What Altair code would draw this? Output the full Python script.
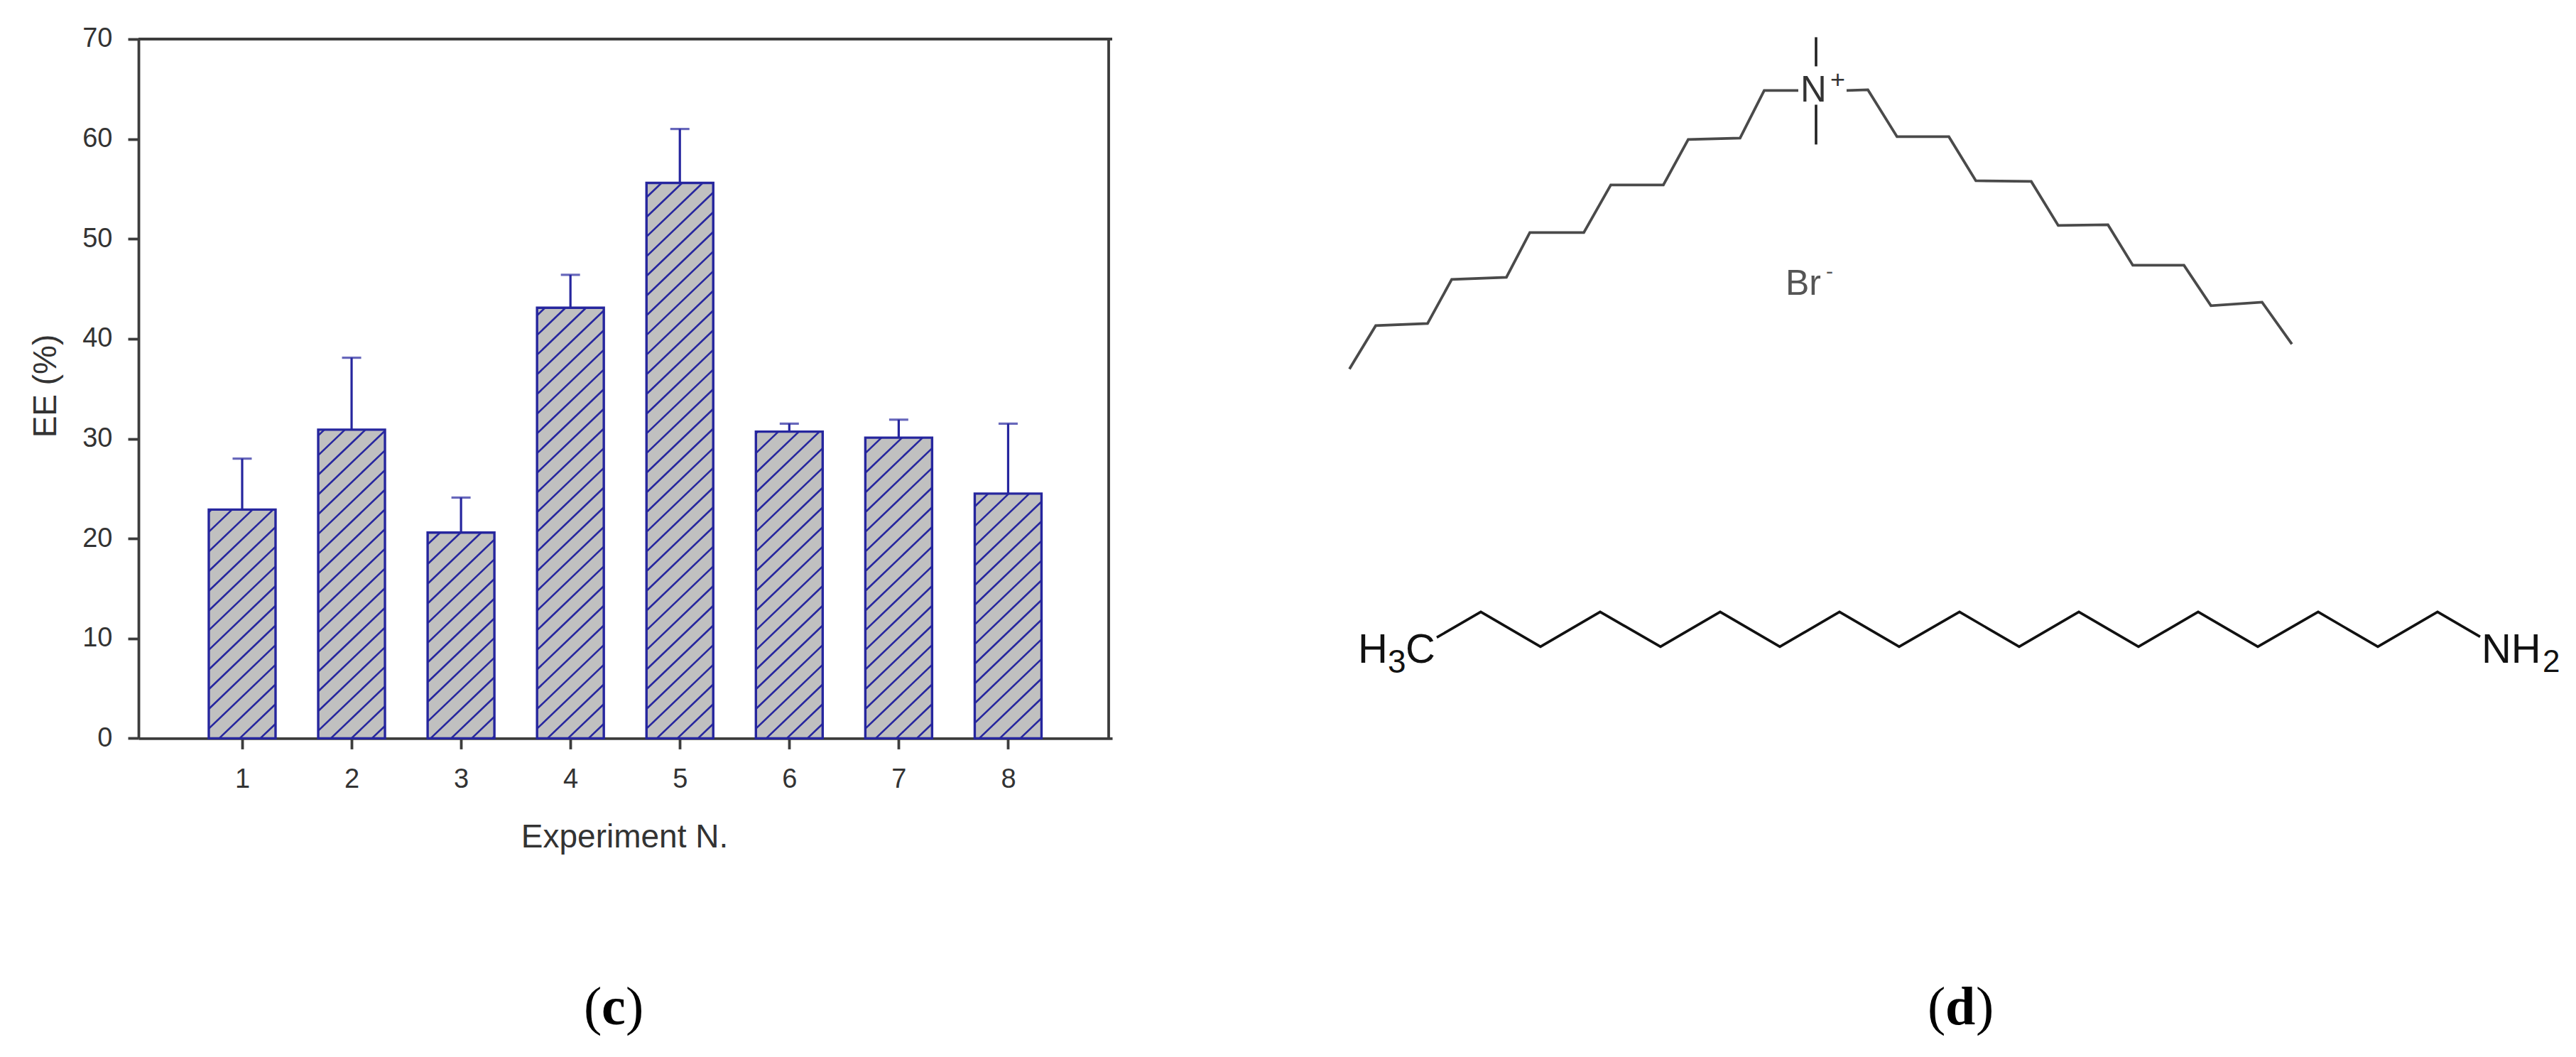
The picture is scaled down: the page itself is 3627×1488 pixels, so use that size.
import altair as alt
import pandas as pd

experiments = [1, 2, 3, 4, 5, 6, 7, 8]
ee_values = [22.9, 30.9, 20.6, 43.1, 55.6, 30.7, 30.1, 24.5]
ee_tops = [28.0, 38.1, 24.1, 46.4, 61.0, 31.5, 31.9, 31.5]
hatch_phase = [14, 11, 24, 14, 14, 14, 14, 22]
y_ticks = [0, 10, 20, 30, 40, 50, 60, 70]

chain_left_x = [1900, 1937, 2010, 2044, 2121, 2154, 2230, 2268, 2342, 2377, 2450, 2484, 2532]
chain_left_y = [519, 458, 455, 393, 390, 327, 327, 260, 260, 196, 194, 127, 127]
chain_right_x = [2600, 2630, 2671, 2744, 2782, 2860, 2898, 2968, 3003, 3075, 3113, 3185, 3227]
chain_right_y = [127, 126, 192, 192, 254, 255, 317, 316, 373, 373, 430, 425, 484]
methyl_up_x = [2557, 2557]
methyl_up_y = [52, 93]
methyl_down_x = [2557, 2557]
methyl_down_y = [147, 203]
amine_x = [2023, 2085, 2169, 2253, 2338, 2422, 2506, 2590, 2674, 2759, 2843, 2927, 3011, 3095, 3179, 3264, 3348, 3432, 3492]
amine_y = [897, 861, 910, 861, 910, 861, 910, 861, 910, 861, 910, 861, 910, 861, 910, 861, 910, 861, 896]

label_text = ["N", "+", "Br", "-", "H", "3", "C", "NH", "2"]
label_x = [2535, 2577, 2514, 2571, 1912, 1954, 1979, 3494, 3580]
label_y = [143, 124, 415, 392, 933, 947, 933, 933, 946]
label_size = [51, 36, 50, 30, 58, 46, 58, 58, 44]
label_color = ["#333333", "#333333", "#555555", "#555555", "#111111", "#111111", "#111111", "#111111", "#111111"]

caption_c = ["(", "c", ")"]
caption_c_x = [822, 847, 881]
caption_d = ["(", "d", ")"]
caption_d_x = [2714, 2739, 2782]

# page geometry of panel (c)
LEFT, TOP, RIGHT, BASE = 195.0, 54.6, 1566.0, 1039.0
X1PX = 337.0
PX_X = 155.2
PX_Y = (BASE - TOP) / 70.0
X_MIN = 1 + (LEFT - X1PX) / PX_X
X_MAX = 1 + (RIGHT - X1PX) / PX_X
AXIS = "#3c3c3c"
BLUE = "#26269e"
TEXT = "#333333"
FONT = "Liberation Sans"
SERIF = "Liberation Serif"

bars = pd.DataFrame({"exp": experiments, "ee": ee_values, "top": ee_tops})

# diagonal hatch of each bar, clipped to the bar
HW = 47.0
SLOPE = 0.95
STEP = 27.7
segs = []
for e, v, ph in zip(experiments, ee_values, hatch_phase):
    h = v * PX_Y
    # heights above the baseline at the left edge of the bar
    start = ph - STEP * int((2 * HW * SLOPE + ph) / STEP + 1)
    k = 0
    while start + k * STEP < h:
        y0 = start + k * STEP
        k += 1
        xa, ya = 0.0, y0
        if ya < 0:
            xa, ya = -y0 / SLOPE, 0.0
        xb, yb = 2 * HW, y0 + 2 * HW * SLOPE
        if yb > h:
            xb, yb = (h - y0) / SLOPE, h
        if xa >= xb:
            continue
        segs.append({
            "x": e + (xa - HW) / PX_X, "x2": e + (xb - HW) / PX_X,
            "y": ya / PX_Y, "y2": yb / PX_Y,
        })
hatch = pd.DataFrame(segs)

xs = alt.Scale(domain=[X_MIN, X_MAX], nice=False, zero=False)
ys = alt.Scale(domain=[0, 70], nice=False)

base_c = alt.Chart(bars)
x_axis = alt.Axis(
    values=experiments, format="d", title="Experiment N.", grid=False,
    domainColor=AXIS, domainWidth=3.8, tickColor=AXIS, tickWidth=3.8, tickSize=15,
    labelFont=FONT, labelFontSize=38, labelColor=TEXT, labelPadding=24,
    titleFont=FONT, titleFontSize=46, titleFontWeight="normal", titleColor=TEXT,
    titleX=684, titleY=153, titleAlign="center", titleBaseline="alphabetic",
)
y_axis = alt.Axis(
    values=y_ticks, title="EE (%)", grid=False,
    domainColor=AXIS, domainWidth=3.8, tickColor=AXIS, tickWidth=3.8, tickSize=15,
    labelFont=FONT, labelFontSize=38, labelColor=TEXT, labelPadding=22,
    titleFont=FONT, titleFontSize=46, titleFontWeight="normal", titleColor=TEXT,
    titleX=-117, titleY=488, titleAlign="center", titleBaseline="alphabetic",
)

bar_layer = base_c.mark_bar(size=94, fill="#c0c0c0", stroke=BLUE, strokeWidth=3.4, orient="vertical").encode(
    x=alt.X("exp:Q", scale=xs, axis=x_axis),
    y=alt.Y("ee:Q", scale=ys, axis=y_axis),
)
hatch_layer = alt.Chart(hatch).mark_rule(color=BLUE, strokeWidth=2.6).encode(
    x=alt.X("x:Q", scale=xs), x2="x2:Q", y=alt.Y("y:Q", scale=ys), y2="y2:Q",
)
err_layer = base_c.mark_rule(color=BLUE, strokeWidth=3.2).encode(
    x=alt.X("exp:Q", scale=xs), y=alt.Y("ee:Q", scale=ys), y2="top:Q",
)
cap_layer = base_c.mark_tick(color=BLUE, size=27, thickness=3.2, orient="horizontal").encode(
    x=alt.X("exp:Q", scale=xs), y=alt.Y("top:Q", scale=ys),
)
frame = pd.DataFrame({"v": [0]})
top_rule = alt.Chart(frame).mark_rule(color=AXIS, strokeWidth=3.8).encode(y=alt.Y("ymax:Q", scale=ys)).transform_calculate(ymax="70")
right_rule = alt.Chart(frame).mark_rule(color=AXIS, strokeWidth=3.8).encode(x=alt.X("xmax:Q", scale=xs)).transform_calculate(xmax=str(X_MAX))


def caption(chars, xpos, ox):
    out = []
    for i, (ch, px) in enumerate(zip(chars, xpos)):
        out.append(
            alt.Chart(frame).mark_text(
                text=ch, font=SERIF, fontSize=76, color="#000000", align="left", baseline="alphabetic",
                fontWeight="bold" if i == 1 else "normal",
            ).encode(x=alt.value(px - ox), y=alt.value(1442 - TOP))
        )
    return out


panel_c = alt.layer(
    bar_layer, hatch_layer, err_layer, cap_layer, top_rule, right_rule,
    *caption(caption_c, caption_c_x, LEFT),
).properties(width=RIGHT - LEFT, height=BASE - TOP)

# panel (d): structures drawn in the picture's own coordinates
D_LEFT, D_RIGHT = 1800.0, 3610.0
dxs = alt.Scale(domain=[D_LEFT, D_RIGHT], nice=False, zero=False)
dys = alt.Scale(domain=[BASE, TOP], nice=False, zero=False)


def line(xv, yv, color, width):
    df = pd.DataFrame({"x": xv, "y": yv, "o": range(len(xv))})
    return alt.Chart(df).mark_line(color=color, strokeWidth=width, strokeJoin="miter").encode(
        x=alt.X("x:Q", scale=dxs, axis=None),
        y=alt.Y("y:Q", scale=dys, axis=None),
        order="o:Q",
    )


labels = pd.DataFrame({"t": label_text, "x": label_x, "y": label_y, "s": label_size, "c": label_color})
label_layer = alt.Chart(labels).mark_text(font=FONT, align="left", baseline="alphabetic").encode(
    x=alt.X("x:Q", scale=dxs, axis=None),
    y=alt.Y("y:Q", scale=dys, axis=None),
    text="t:N",
    size=alt.Size("s:Q", scale=None, legend=None),
    color=alt.Color("c:N", scale=None, legend=None),
)

panel_d = alt.layer(
    line(chain_left_x, chain_left_y, "#4a4a4a", 3.8),
    line(chain_right_x, chain_right_y, "#4a4a4a", 3.8),
    line(methyl_up_x, methyl_up_y, "#222222", 3.6),
    line(methyl_down_x, methyl_down_y, "#222222", 3.6),
    line(amine_x, amine_y, "#111111", 3.6),
    label_layer,
    *caption(caption_d, caption_d_x, D_LEFT),
).resolve_scale(x="shared", y="shared").properties(width=D_RIGHT - D_LEFT, height=BASE - TOP)

chart = alt.hconcat(panel_c, panel_d, spacing=D_LEFT - RIGHT - 2).properties(
    padding={"left": 33, "top": 28, "right": 0, "bottom": 0},
    background="#ffffff",
).configure_view(stroke=None)

chart.save("out.html", embed_options={"renderer": "svg", "actions": False})
